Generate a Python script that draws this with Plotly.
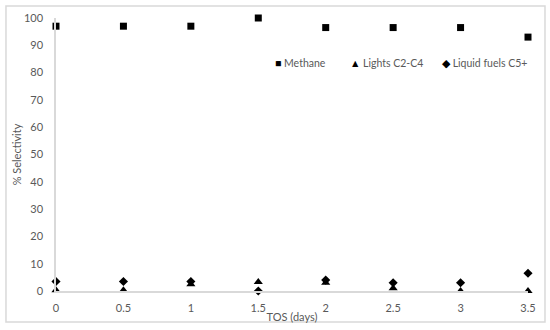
import plotly.graph_objects as go

# --- data ---
tos_days = [0, 0.5, 1, 1.5, 2, 2.5, 3, 3.5]
methane = [97, 97, 97, 100, 96.5, 96.5, 96.5, 93]
lights_c2_c4 = [0.3, 0.3, 2.5, 3.3, 3, 1, 0, 0]
liquid_c5 = [3.5, 3.5, 3.5, 0, 4, 3, 3, 6.5]
x_ticks = [0, 0.5, 1, 1.5, 2, 2.5, 3, 3.5]
y_ticks = [0, 10, 20, 30, 40, 50, 60, 70, 80, 90, 100]

FONT = "Lato, Open Sans, sans-serif"
GREY_TXT = "#595959"
GREY_LINE = "#d9d9d9"

fig = go.Figure()

series = [
    ("Methane", methane, "square", 7, "\u25A0"),
    ("Lights C2-C4", lights_c2_c4, "triangle-up", 8, "\u25B2"),
    ("Liquid fuels C5+", liquid_c5, "diamond", 7, "\u25C6"),
]
for name, vals, sym, size, _ in series:
    fig.add_trace(go.Scatter(
        x=tos_days, y=vals, mode="markers", name=name,
        marker=dict(symbol=sym, size=size, color="black"),
        cliponaxis=False, showlegend=False,
    ))

# Excel-style legend: compact glyph + label, placed inside the plot area
legend_x = [0.46, 0.618, 0.814]
for (name, _, _, _, glyph), lx in zip(series, legend_x):
    fig.add_annotation(
        xref="paper", yref="paper", x=lx, y=0.835, xanchor="left", yanchor="middle",
        text=f"<span style='color:black'>{glyph}</span> {name}", showarrow=False,
        font=dict(family=FONT, size=10.5, color=GREY_TXT),
    )

# light grey chart border (Excel chart area)
fig.add_shape(type="rect", xref="paper", yref="paper",
              x0=-0.106, x1=1.036, y0=-0.114, y1=1.044,
              line=dict(color=GREY_LINE, width=1.5), fillcolor="rgba(0,0,0,0)")

fig.update_layout(
    width=550, height=330,
    margin=dict(l=56, r=22, t=18, b=39, autoexpand=False),
    paper_bgcolor="white", plot_bgcolor="white",
    font=dict(family=FONT, size=11, color=GREY_TXT),
    showlegend=False,
    xaxis=dict(range=[0, 3.5], tickvals=x_ticks, ticktext=[str(v) for v in x_ticks],
               showgrid=False, zeroline=False, showline=True, linecolor=GREY_LINE,
               linewidth=1.5, ticks="", ticklabelstandoff=6,
               tickfont=dict(size=11, color=GREY_TXT),
               title=dict(text="TOS (days)", standoff=0, font=dict(size=11, color=GREY_TXT))),
    yaxis=dict(range=[0, 100], tickvals=y_ticks, showgrid=False, zeroline=False,
               showline=True, linecolor=GREY_LINE, linewidth=1.5, ticks="",
               ticklabelstandoff=9,
               tickfont=dict(size=11, color=GREY_TXT),
               title=dict(text="% Selectivity", standoff=0, font=dict(size=11, color=GREY_TXT))),
)

fig.write_html("out.html", config={"displayModeBar": False},
               post_script="document.body.style.margin='0px';")
